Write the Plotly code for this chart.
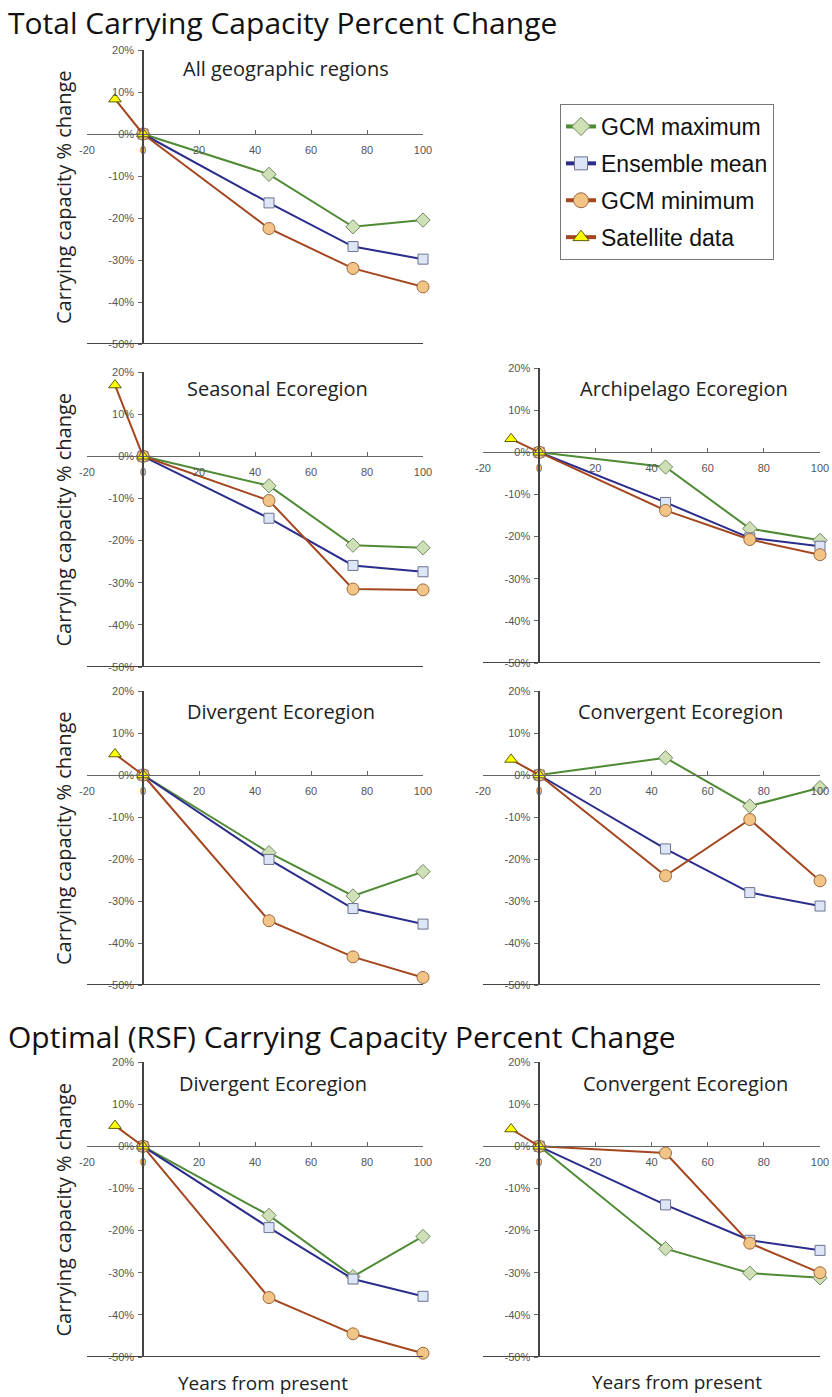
import plotly.graph_objects as go

# ---------------- data (percent change) ----------------
YEARS = [0, 45, 75, 100]
SAT_YEARS = [-10, 0]

ALL_MAX = [0, -9.6, -22.1, -20.5]
ALL_MEAN = [0, -16.4, -26.8, -29.8]
ALL_MIN = [0, -22.5, -32.0, -36.4]
ALL_SAT = [8.3, 0]

SEA_MAX = [0, -7.0, -21.1, -21.7]
SEA_MEAN = [0, -14.7, -25.9, -27.4]
SEA_MIN = [0, -10.5, -31.5, -31.7]
SEA_SAT = [16.9, 0]

ARC_MAX = [0, -3.5, -18.1, -20.9]
ARC_MEAN = [0, -11.9, -20.3, -22.3]
ARC_MIN = [0, -13.8, -20.7, -24.3]
ARC_SAT = [3.2, 0]

DIV_MAX = [0, -18.5, -28.8, -23.0]
DIV_MEAN = [0, -20.1, -31.8, -35.5]
DIV_MIN = [0, -34.7, -43.3, -48.2]
DIV_SAT = [5.0, 0]

CON_MAX = [0, 4.1, -7.4, -3.0]
CON_MEAN = [0, -17.6, -28.0, -31.2]
CON_MIN = [0, -24.0, -10.6, -25.2]
CON_SAT = [3.7, 0]

RSF_DIV_MAX = [0, -16.4, -30.9, -21.4]
RSF_DIV_MEAN = [0, -19.3, -31.5, -35.6]
RSF_DIV_MIN = [0, -35.9, -44.5, -49.1]
RSF_DIV_SAT = [4.9, 0]

RSF_CON_MAX = [0, -24.3, -30.1, -31.2]
RSF_CON_MEAN = [0, -13.9, -22.3, -24.7]
RSF_CON_MIN = [0, -1.6, -23.0, -30.0]
RSF_CON_SAT = [4.1, 0]

SERIES_NAMES = ["GCM maximum", "Ensemble mean", "GCM minimum", "Satellite data"]
PANEL_TITLES = ["All geographic regions", "Seasonal Ecoregion", "Archipelago Ecoregion",
                "Divergent Ecoregion", "Convergent Ecoregion",
                "Divergent Ecoregion", "Convergent Ecoregion"]
X_TICKS = [-20, 0, 20, 40, 60, 80, 100]
X_TICK_LABELS = ["-20", "0", "20", "40", "60", "80", "100"]
Y_TICKS = [-50, -40, -30, -20, -10, 0, 10, 20]
Y_TICK_LABELS = ["-50%", "-40%", "-30%", "-20%", "-10%", "0%", "10%", "20%"]
X_RANGE = [-20, 100]
Y_RANGE = [-50, 20]

PANEL_DATA = [
    (ALL_MAX, ALL_MEAN, ALL_MIN, ALL_SAT),
    (SEA_MAX, SEA_MEAN, SEA_MIN, SEA_SAT),
    (ARC_MAX, ARC_MEAN, ARC_MIN, ARC_SAT),
    (DIV_MAX, DIV_MEAN, DIV_MIN, DIV_SAT),
    (CON_MAX, CON_MEAN, CON_MIN, CON_SAT),
    (RSF_DIV_MAX, RSF_DIV_MEAN, RSF_DIV_MIN, RSF_DIV_SAT),
    (RSF_CON_MAX, RSF_CON_MEAN, RSF_CON_MIN, RSF_CON_SAT),
]

# ---------------- layout geometry (pixels) ----------------
W, H = 832, 1397
LEFT_X = (87, 423)
RIGHT_X = (483, 820)
PANEL_BOX = [
    (LEFT_X, (50, 344)),
    (LEFT_X, (372, 667)),
    (RIGHT_X, (368, 663)),
    (LEFT_X, (691, 985)),
    (RIGHT_X, (691, 985)),
    (LEFT_X, (1062, 1357)),
    (RIGHT_X, (1062, 1357)),
]
TITLE_POS = [(286, 68), (277, 388), (684, 388), (281, 711), (680, 711), (273, 1083), (685, 1083)]
YLABEL_PANELS = [0, 1, 3, 5]


def fx(p):
    return p / W


def fy(p):
    return 1 - p / H


STYLE = [
    dict(line="#4f8a34", fill="#cfe0b6", edge="#6f8a60", symbol="diamond", size=11),
    dict(line="#2b2c8c", fill="#dde6f6", edge="#6d7390", symbol="square", size=10),
    dict(line="#a4461e", fill="#f2c486", edge="#9c6a40", symbol="circle", size=12),
    dict(line="#a4461e", fill="#ffff00", edge="#5c5c00", symbol="triangle-up", size=11),
]

fig = go.Figure()
TICK_FONT = dict(family="Liberation Sans, Arial", size=11, color="#555")
layout_axes = {}
shapes = []
annotations = []

for i, (data, ((xl, xr), (yt, yb))) in enumerate(zip(PANEL_DATA, PANEL_BOX)):
    n = "" if i == 0 else str(i + 1)
    xa, ya = "x" + n, "y" + n
    for k in range(4):
        st = STYLE[k]
        xs = SAT_YEARS if k == 3 else YEARS
        fig.add_trace(go.Scatter(
            x=xs, y=data[k], xaxis=xa, yaxis=ya, mode="lines+markers",
            name=SERIES_NAMES[k], showlegend=False, cliponaxis=False,
            line=dict(color=st["line"], width=2),
            marker=dict(symbol=st["symbol"], size=st["size"], color=st["fill"],
                        line=dict(color=st["edge"], width=1)),
        ))
    xdom = [fx(xl), fx(xr)]
    ydom = [fy(yb), fy(yt)]
    xpos = ydom[0] + (0 - Y_RANGE[0]) / (Y_RANGE[1] - Y_RANGE[0]) * (ydom[1] - ydom[0])
    ypos = xdom[0] + (0 - X_RANGE[0]) / (X_RANGE[1] - X_RANGE[0]) * (xdom[1] - xdom[0])
    layout_axes["xaxis" + n] = dict(
        domain=xdom, range=X_RANGE, anchor="free", position=xpos, automargin=False,
        tickvals=X_TICKS, ticktext=X_TICK_LABELS, ticks="inside", ticklen=4,
        tickcolor="#666", showline=True, linecolor="#666", linewidth=1,
        showgrid=False, zeroline=False, tickfont=TICK_FONT, ticklabelstandoff=6,
    )
    layout_axes["yaxis" + n] = dict(
        domain=ydom, range=Y_RANGE, anchor="free", position=ypos, automargin=False,
        tickvals=Y_TICKS, ticktext=Y_TICK_LABELS, ticks="outside", ticklen=4,
        tickcolor="#666", showline=True, linecolor="#444", linewidth=1.5,
        showgrid=False, zeroline=False, tickfont=TICK_FONT, ticklabelstandoff=2,
    )
    shapes.append(dict(type="line", xref=xa + " domain", yref=ya, x0=0, x1=1,
                       y0=Y_RANGE[0], y1=Y_RANGE[0], line=dict(color="#444", width=2)))
    tx, ty = TITLE_POS[i]
    annotations.append(dict(text=PANEL_TITLES[i], x=fx(tx), y=fy(ty), xref="paper", yref="paper",
                            xanchor="center", yanchor="middle", showarrow=False,
                            font=dict(family="Open Sans", size=20, color="#222")))
    if i in YLABEL_PANELS:
        annotations.append(dict(text="Carrying capacity % change", x=fx(63),
                                y=(ydom[0] + ydom[1]) / 2, xref="paper", yref="paper",
                                xanchor="center", yanchor="middle", textangle=-90, showarrow=False,
                                font=dict(family="Open Sans", size=20, color="#222")))

# legend-only entries (thicker symbols, like the original key)
for k in range(4):
    st = STYLE[k]
    fig.add_trace(go.Scatter(
        x=[None], y=[None], mode="lines+markers", name=SERIES_NAMES[k],
        legendgroup=SERIES_NAMES[k], showlegend=True,
        line=dict(color=st["line"], width=4),
        marker=dict(symbol=st["symbol"], size=st["size"] + 3, color=st["fill"],
                    line=dict(color=st["edge"], width=1)),
    ))

annotations += [
    dict(text="Total Carrying Capacity Percent Change", x=fx(6), y=1.0, xref="paper", yref="paper",
         xanchor="left", yanchor="top", showarrow=False,
         font=dict(family="Open Sans", size=30, color="#111")),
    dict(text="Optimal (RSF) Carrying Capacity Percent Change", x=fx(6), y=fy(1036), xref="paper",
         yref="paper", xanchor="left", yanchor="middle", showarrow=False,
         font=dict(family="Open Sans", size=30, color="#111")),
    dict(text="Years from present", x=fx(263), y=fy(1383), xref="paper", yref="paper",
         xanchor="center", yanchor="middle", showarrow=False,
         font=dict(family="Open Sans", size=19, color="#222")),
    dict(text="Years from present", x=fx(677), y=fy(1382), xref="paper", yref="paper",
         xanchor="center", yanchor="middle", showarrow=False,
         font=dict(family="Open Sans", size=19, color="#222")),
]

fig.update_layout(
    width=W, height=H, autosize=False, margin=dict(l=0, r=0, t=0, b=0),
    plot_bgcolor="white", paper_bgcolor="white",
    shapes=shapes, annotations=annotations,
    legend=dict(x=fx(560), y=fy(104), xanchor="left", yanchor="top",
                bordercolor="#777", borderwidth=1, bgcolor="white",
                font=dict(family="Liberation Sans, Arial", size=23, color="#111"),
                traceorder="grouped", tracegroupgap=4, itemsizing="trace"),
    **layout_axes,
)

fig.write_html("out.html", config={"displayModeBar": False},
               post_script="document.body.style.margin='0';")
